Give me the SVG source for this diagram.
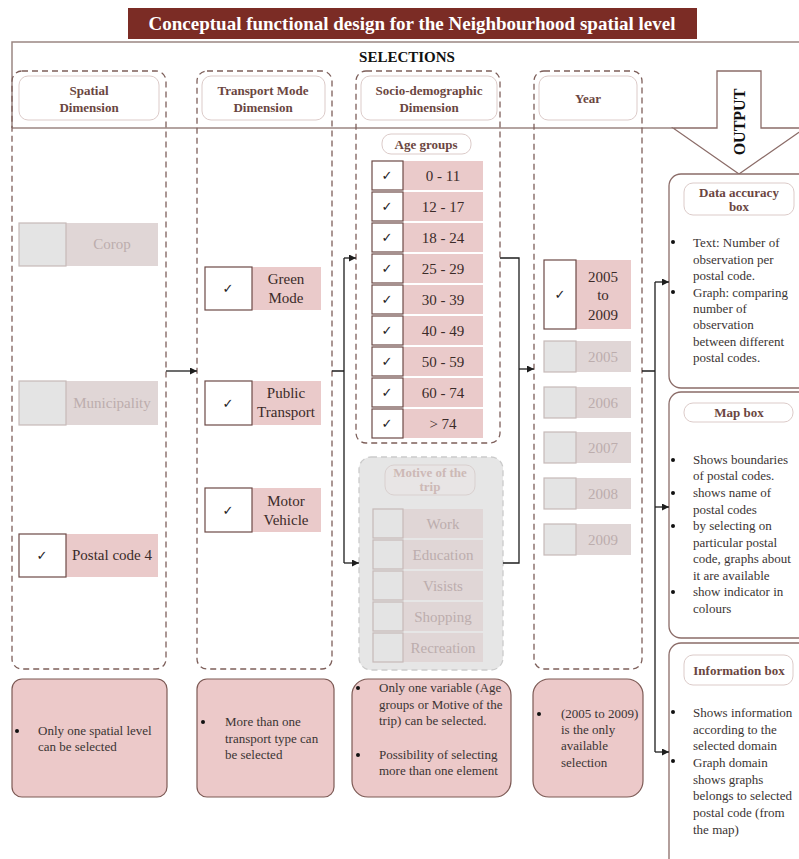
<svg xmlns="http://www.w3.org/2000/svg" width="799" height="859" viewBox="0 0 799 859">
  <style>
    .serif { font-family: "Liberation Serif", "DejaVu Serif", serif; }
    .frame { fill: none; stroke: #9b8682; stroke-width: 1.5; }
    .dash { fill: none; stroke: #7d5f5a; stroke-width: 1.3; stroke-dasharray: 6 4; }
    .dash-off { fill: #e6e6e6; stroke: #cbcbcb; stroke-width: 1.3; stroke-dasharray: 6 4; }
    .hdr { fill: #fff; stroke: #dccbc9; stroke-width: 1; }
    .hdr-off { fill: #e8e5e5; stroke: #d9d0cf; stroke-width: 1; }
    .hdrt { font-family: "Liberation Serif", serif; font-weight: bold; font-size: 13px; fill: #6b4641; text-anchor: middle; }
    .hdrt-off { font-family: "Liberation Serif", serif; font-weight: bold; font-size: 13px; fill: #cdb9b6; text-anchor: middle; }
    .chk { fill: #fff; stroke: #6d4a46; stroke-width: 1.2; }
    .lab { fill: #eacaca; }
    .lt { font-family: "Liberation Serif", serif; font-size: 15px; fill: #3b2b29; text-anchor: middle; }
    .chk-off { fill: #e4e4e4; stroke: #c6b9b8; stroke-width: 1.2; }
    .lab-off { fill: #e0d6d6; }
    .lt-off { font-family: "Liberation Serif", serif; font-size: 15px; fill: #bcadad; text-anchor: middle; }
    .tick { font-family: "DejaVu Sans", sans-serif; font-size: 13px; fill: #222; text-anchor: middle; }
    .note { fill: #ecc9c9; stroke: #7d5a55; stroke-width: 1.2; }
    .nt { font-family: "Liberation Serif", serif; font-size: 13px; fill: #3a3433; }
    .out { fill: #fff; stroke: #8b6c68; stroke-width: 1.3; }
    .dot { fill: #111; }
    .conn { fill: none; stroke: #1e1e1e; stroke-width: 1.3; }
    .arr { fill: none; stroke: #1e1e1e; stroke-width: 1.3; marker-end: url(#head); }
  </style>
  <defs>
    <marker id="head" viewBox="0 0 10 10" refX="10" refY="5" markerWidth="7" markerHeight="7" markerUnits="userSpaceOnUse" orient="auto">
      <path d="M0,0 L10,5 L0,10 z" fill="#1e1e1e"/>
    </marker>
  </defs>

  <rect width="799" height="859" fill="#fff"/>

  <!-- title bar -->
  <g id="title">
    <rect x="128" y="8" width="569" height="31" fill="#7b2c25"/>
    <text x="412" y="30" class="serif" font-size="19" font-weight="bold" fill="#fff" text-anchor="middle">Conceptual functional design for the Neighbourhood spatial level</text>
  </g>

  <!-- selections frame -->
  <g id="selections-frame">
    <path class="frame" d="M12,128 L12,42 L799,42"/>
    <path class="frame" d="M12,128 L673,128"/>
    <text x="407" y="62" class="serif" font-size="15" font-weight="bold" fill="#111" text-anchor="middle">SELECTIONS</text>
  </g>

  <!-- output arrow -->
  <g id="output-arrow">
    <polygon points="717,71 761,71 761,128 805,128 739,174 673,128 717,128" fill="#fff" stroke="#8b6c68" stroke-width="1.3"/>
    <text x="0" y="0" class="serif" font-size="16" font-weight="bold" fill="#111" text-anchor="middle" transform="translate(745,122) rotate(-90)">OUTPUT</text>
  </g>

  <!-- spatial dimension -->
  <g id="spatial">
    <rect class="dash" x="12" y="71" width="154" height="598" rx="10"/>
    <rect class="hdr" x="19" y="76" width="140" height="44" rx="9"/>
    <text class="hdrt" x="89" y="95">Spatial</text>
    <text class="hdrt" x="89" y="112">Dimension</text>
    <g id="corop">
      <rect class="lab-off" x="66" y="223" width="92" height="43"/>
      <rect class="chk-off" x="19" y="223" width="47" height="43"/>
      <text class="lt-off" x="112" y="249">Corop</text>
    </g>
    <g id="municipality">
      <rect class="lab-off" x="66" y="381" width="92" height="44"/>
      <rect class="chk-off" x="19" y="381" width="47" height="44"/>
      <text class="lt-off" x="112" y="408">Municipality</text>
    </g>
    <g id="postal-code-4">
      <rect class="lab" x="66" y="534" width="92" height="43"/>
      <rect class="chk" x="19" y="534" width="47" height="43"/>
      <text class="tick" x="42" y="560">✓</text>
      <text class="lt" x="112" y="560">Postal code 4</text>
    </g>
  </g>

  <!-- transport mode dimension -->
  <g id="transport">
    <rect class="dash" x="197" y="71" width="135" height="598" rx="10"/>
    <rect class="hdr" x="202" y="76" width="123" height="44" rx="9"/>
    <text class="hdrt" x="263" y="95">Transport Mode</text>
    <text class="hdrt" x="263" y="112">Dimension</text>
    <g id="green-mode">
      <rect class="lab" x="252" y="267" width="69" height="43"/>
      <rect class="chk" x="205" y="267" width="47" height="43"/>
      <text class="tick" x="228" y="293">✓</text>
      <text class="lt" x="286" y="284">Green</text>
      <text class="lt" x="286" y="303">Mode</text>
    </g>
    <g id="public-transport">
      <rect class="lab" x="252" y="381" width="69" height="44"/>
      <rect class="chk" x="205" y="381" width="47" height="44"/>
      <text class="tick" x="228" y="408">✓</text>
      <text class="lt" x="286" y="398">Public</text>
      <text class="lt" x="286" y="417">Transport</text>
    </g>
    <g id="motor-vehicle">
      <rect class="lab" x="252" y="488" width="69" height="44"/>
      <rect class="chk" x="205" y="488" width="47" height="44"/>
      <text class="tick" x="228" y="515">✓</text>
      <text class="lt" x="286" y="506">Motor</text>
      <text class="lt" x="286" y="525">Vehicle</text>
    </g>
  </g>

  <!-- socio-demographic dimension -->
  <g id="socio">
    <rect class="dash" x="356" y="71" width="144" height="372" rx="10"/>
    <rect class="hdr" x="361" y="76" width="136" height="44" rx="9"/>
    <text class="hdrt" x="429" y="95">Socio-demographic</text>
    <text class="hdrt" x="429" y="112">Dimension</text>
    <rect class="hdr" x="382" y="134" width="89" height="20" rx="9"/>
    <text class="hdrt" x="426" y="149">Age groups</text>
    <g id="age-groups">
      <g><rect class="lab" x="403" y="161" width="80" height="29"/><rect class="chk" x="372" y="161" width="31" height="29"/><text class="tick" x="387" y="180">✓</text><text class="lt" x="443" y="181">0 - 11</text></g>
      <g><rect class="lab" x="403" y="192" width="80" height="29"/><rect class="chk" x="372" y="192" width="31" height="29"/><text class="tick" x="387" y="211">✓</text><text class="lt" x="443" y="212">12 - 17</text></g>
      <g><rect class="lab" x="403" y="223" width="80" height="29"/><rect class="chk" x="372" y="223" width="31" height="29"/><text class="tick" x="387" y="242">✓</text><text class="lt" x="443" y="243">18 - 24</text></g>
      <g><rect class="lab" x="403" y="254" width="80" height="29"/><rect class="chk" x="372" y="254" width="31" height="29"/><text class="tick" x="387" y="273">✓</text><text class="lt" x="443" y="274">25 - 29</text></g>
      <g><rect class="lab" x="403" y="285" width="80" height="29"/><rect class="chk" x="372" y="285" width="31" height="29"/><text class="tick" x="387" y="304">✓</text><text class="lt" x="443" y="305">30 - 39</text></g>
      <g><rect class="lab" x="403" y="316" width="80" height="29"/><rect class="chk" x="372" y="316" width="31" height="29"/><text class="tick" x="387" y="335">✓</text><text class="lt" x="443" y="336">40 - 49</text></g>
      <g><rect class="lab" x="403" y="347" width="80" height="29"/><rect class="chk" x="372" y="347" width="31" height="29"/><text class="tick" x="387" y="366">✓</text><text class="lt" x="443" y="367">50 - 59</text></g>
      <g><rect class="lab" x="403" y="378" width="80" height="29"/><rect class="chk" x="372" y="378" width="31" height="29"/><text class="tick" x="387" y="397">✓</text><text class="lt" x="443" y="398">60 - 74</text></g>
      <g><rect class="lab" x="403" y="409" width="80" height="29"/><rect class="chk" x="372" y="409" width="31" height="29"/><text class="tick" x="387" y="428">✓</text><text class="lt" x="443" y="429">&gt; 74</text></g>
    </g>
  </g>

  <!-- motive of the trip (inactive) -->
  <g id="motive">
    <rect class="dash-off" x="359" y="457" width="144" height="213" rx="12"/>
    <rect class="hdr-off" x="385" y="465" width="90" height="30" rx="9"/>
    <text class="hdrt-off" x="430" y="477">Motive of the</text>
    <text class="hdrt-off" x="430" y="491">trip</text>
    <g><rect class="lab-off" x="403" y="509" width="80" height="29"/><rect class="chk-off" x="373" y="509" width="30" height="29"/><text class="lt-off" x="443" y="529">Work</text></g>
    <g><rect class="lab-off" x="403" y="540" width="80" height="29"/><rect class="chk-off" x="373" y="540" width="30" height="29"/><text class="lt-off" x="443" y="560">Education</text></g>
    <g><rect class="lab-off" x="403" y="571" width="80" height="29"/><rect class="chk-off" x="373" y="571" width="30" height="29"/><text class="lt-off" x="443" y="591">Visists</text></g>
    <g><rect class="lab-off" x="403" y="602" width="80" height="29"/><rect class="chk-off" x="373" y="602" width="30" height="29"/><text class="lt-off" x="443" y="622">Shopping</text></g>
    <g><rect class="lab-off" x="403" y="633" width="80" height="29"/><rect class="chk-off" x="373" y="633" width="30" height="29"/><text class="lt-off" x="443" y="653">Recreation</text></g>
  </g>

  <!-- year -->
  <g id="year">
    <rect class="dash" x="534" y="71" width="108" height="598" rx="10"/>
    <rect class="hdr" x="539" y="76" width="98" height="44" rx="9"/>
    <text class="hdrt" x="588" y="103">Year</text>
    <g id="y2005-2009">
      <rect class="lab" x="576" y="260" width="55" height="69"/>
      <rect class="chk" x="544" y="260" width="32" height="69"/>
      <text class="tick" x="560" y="299">✓</text>
      <text class="lt" x="603" y="282">2005</text>
      <text class="lt" x="603" y="300">to</text>
      <text class="lt" x="603" y="320">2009</text>
    </g>
    <g><rect class="lab-off" x="576" y="341" width="55" height="31"/><rect class="chk-off" x="544" y="341" width="32" height="31"/><text class="lt-off" x="603" y="362">2005</text></g>
    <g><rect class="lab-off" x="576" y="387" width="55" height="31"/><rect class="chk-off" x="544" y="387" width="32" height="31"/><text class="lt-off" x="603" y="408">2006</text></g>
    <g><rect class="lab-off" x="576" y="432" width="55" height="31"/><rect class="chk-off" x="544" y="432" width="32" height="31"/><text class="lt-off" x="603" y="453">2007</text></g>
    <g><rect class="lab-off" x="576" y="478" width="55" height="31"/><rect class="chk-off" x="544" y="478" width="32" height="31"/><text class="lt-off" x="603" y="499">2008</text></g>
    <g><rect class="lab-off" x="576" y="524" width="55" height="31"/><rect class="chk-off" x="544" y="524" width="32" height="31"/><text class="lt-off" x="603" y="545">2009</text></g>
  </g>

  <!-- rule notes under each dimension -->
  <g id="note-spatial">
    <rect class="note" x="12" y="679" width="155" height="118" rx="10"/>
    <circle class="dot" cx="17" cy="731" r="2"/>
    <text class="nt" x="38" y="735">Only one spatial level</text>
    <text class="nt" x="38" y="751">can be selected</text>
  </g>
  <g id="note-transport">
    <rect class="note" x="197" y="679" width="137" height="118" rx="10"/>
    <circle class="dot" cx="203" cy="722" r="2"/>
    <text class="nt" x="225" y="726">More than one</text>
    <text class="nt" x="225" y="743">transport type can</text>
    <text class="nt" x="225" y="759">be selected</text>
  </g>
  <g id="note-socio">
    <rect class="note" x="352" y="679" width="159" height="118" rx="16"/>
    <circle class="dot" cx="358" cy="688" r="2"/>
    <text class="nt" x="379" y="692">Only one variable (Age</text>
    <text class="nt" x="379" y="709">groups or Motive of the</text>
    <text class="nt" x="379" y="725">trip) can be selected.</text>
    <circle class="dot" cx="358" cy="755" r="2"/>
    <text class="nt" x="379" y="759">Possibility  of selecting</text>
    <text class="nt" x="379" y="775">more than one element</text>
  </g>
  <g id="note-year">
    <rect class="note" x="533" y="679" width="110" height="118" rx="16"/>
    <circle class="dot" cx="539" cy="714" r="2"/>
    <text class="nt" x="561" y="718">(2005 to 2009)</text>
    <text class="nt" x="561" y="734">is the only</text>
    <text class="nt" x="561" y="750">available</text>
    <text class="nt" x="561" y="767">selection</text>
  </g>

  <!-- output panels -->
  <g id="data-accuracy-box">
    <rect class="out" x="669" y="174" width="150" height="214" rx="12"/>
    <rect class="hdr" x="684" y="183" width="110" height="32" rx="9"/>
    <text class="hdrt" x="739" y="197">Data accuracy</text>
    <text class="hdrt" x="739" y="211">box</text>
    <circle class="dot" cx="673" cy="242" r="2"/>
    <text class="nt" x="693" y="247">Text: Number of</text>
    <text class="nt" x="693" y="264">observation per</text>
    <text class="nt" x="693" y="280">postal code.</text>
    <circle class="dot" cx="673" cy="292" r="2"/>
    <text class="nt" x="693" y="297">Graph: comparing</text>
    <text class="nt" x="693" y="313">number of</text>
    <text class="nt" x="693" y="329">observation</text>
    <text class="nt" x="693" y="346">between different</text>
    <text class="nt" x="693" y="362">postal codes.</text>
  </g>
  <g id="map-box">
    <rect class="out" x="669" y="392" width="150" height="246" rx="12"/>
    <rect class="hdr" x="684" y="403" width="109" height="19" rx="9"/>
    <text class="hdrt" x="739" y="417">Map box</text>
    <circle class="dot" cx="673" cy="460" r="2"/>
    <text class="nt" x="693" y="464">Shows boundaries</text>
    <text class="nt" x="693" y="480">of postal codes.</text>
    <circle class="dot" cx="673" cy="493" r="2"/>
    <text class="nt" x="693" y="497">shows name of</text>
    <text class="nt" x="693" y="514">postal codes</text>
    <circle class="dot" cx="673" cy="526" r="2"/>
    <text class="nt" x="693" y="530">by selecting on</text>
    <text class="nt" x="693" y="547">particular postal</text>
    <text class="nt" x="693" y="563">code, graphs about</text>
    <text class="nt" x="693" y="580">it are available</text>
    <circle class="dot" cx="673" cy="592" r="2"/>
    <text class="nt" x="693" y="596">show indicator in</text>
    <text class="nt" x="693" y="613">colours</text>
  </g>
  <g id="information-box">
    <rect class="out" x="669" y="643" width="150" height="240" rx="12"/>
    <rect class="hdr" x="684" y="655" width="109" height="30" rx="9"/>
    <text class="hdrt" x="739" y="675">Information box</text>
    <circle class="dot" cx="673" cy="712" r="2"/>
    <text class="nt" x="693" y="717">Shows information</text>
    <text class="nt" x="693" y="734">according to the</text>
    <text class="nt" x="693" y="750">selected domain</text>
    <circle class="dot" cx="673" cy="761" r="2"/>
    <text class="nt" x="693" y="767">Graph domain</text>
    <text class="nt" x="693" y="784">shows graphs</text>
    <text class="nt" x="693" y="800">belongs to selected</text>
    <text class="nt" x="693" y="817">postal code (from</text>
    <text class="nt" x="693" y="834">the map)</text>
  </g>

  <!-- connectors -->
  <g id="connectors">
    <path class="arr" d="M166,371 L197,371"/>
    <path class="conn" d="M332,371 L344,371 M344,258 L344,563"/>
    <path class="arr" d="M344,258 L356,258"/>
    <path class="arr" d="M344,563 L359,563"/>
    <path class="conn" d="M500,258 L519,258 L519,563 L503,563"/>
    <path class="arr" d="M519,369 L534,369"/>
    <path class="conn" d="M642,371 L655,371 M655,282 L655,752"/>
    <path class="arr" d="M655,282 L669,282"/>
    <path class="arr" d="M655,507 L669,507"/>
    <path class="arr" d="M655,752 L669,752"/>
  </g>
</svg>
